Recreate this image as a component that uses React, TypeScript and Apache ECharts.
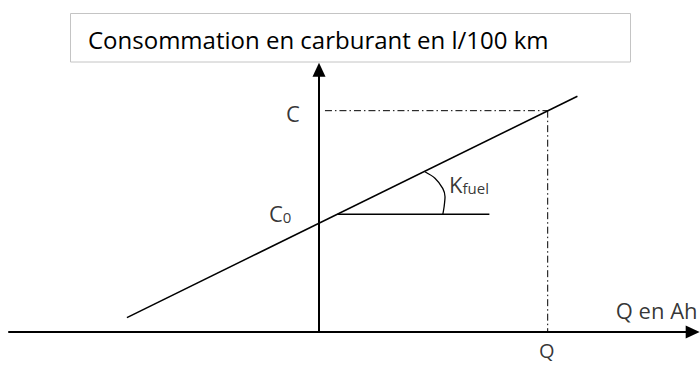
import React, { useEffect, useRef } from "react";
import * as echarts from "echarts";

// Axis ranges (data units; Q and C both set to 10 arbitrary units)
const xRange = [-13.95, 16.66];
const yRange = [-1.49, 15];

// Key values
const Q = 10;
const C = 10;
const C0 = 4.91;

// Axis lines
const xAxisLine = [-13.59, 16.34];
const yAxisTop = 11.85;

// Consumption line
const slopeLine = [
  [-8.4, 0.65],
  [11.3, 10.65],
];
// Horizontal reference for the angle
const refLine = [
  [0.81, 5.32],
  [7.45, 5.32],
];
// Angle arc points
const arcPoints = [
  [4.63, 7.24],
  [5.07, 6.95],
  [5.41, 6.49],
  [5.51, 6.11],
  [5.47, 5.66],
  [5.41, 5.29],
];

const titleText = "Consommation en carburant en l/100 km";
const xAxisName = "Q en Ah";
const labelC = "C";
const labelC0 = ["C", "0"];
const labelK = ["K", "fuel"];
const labelQ = "Q";

const FONT = "'Open Sans'";

export default function App() {
  const ref = useRef<HTMLDivElement>(null);
  useEffect(() => {
    if (!ref.current) return;
    const chart = echarts.init(ref.current, null, { renderer: "svg" });
    const dashDot = [7, 3, 1.5, 3];
    const richM = { fontSize: 22, fontFamily: FONT, color: "#000" };
    const richS = { fontSize: 15, fontFamily: FONT, color: "#000", verticalAlign: "bottom", lineHeight: 12 };
    chart.setOption({
      animation: false,
      backgroundColor: "#fff",
      grid: { left: 0, right: 0, top: 0, bottom: 0, containLabel: false },
      xAxis: { type: "value", min: xRange[0], max: xRange[1], show: false },
      yAxis: { type: "value", min: yRange[0], max: yRange[1], show: false },
      graphic: [
        {
          type: "rect",
          shape: { x: 70.5, y: 13.5, width: 560, height: 48.5 },
          style: { fill: "#fff", stroke: "#c4c4c4", lineWidth: 1 },
          z: 10,
        },
        {
          type: "text",
          x: 88,
          y: 39.5,
          style: {
            text: titleText,
            fontSize: 24,
            fontFamily: FONT,
            fill: "#000",
            verticalAlign: "middle",
          },
          z: 11,
        },
      ],
      series: [
        {
          type: "line",
          name: "axes",
          data: [],
          silent: true,
          markLine: {
            silent: true,
            symbol: ["none", "triangle"],
            symbolSize: [13, 14],
            label: { show: false },
            emphasis: { disabled: true },
            lineStyle: { type: "solid", width: 2, color: "#000" },
            data: [
              [{ coord: [xAxisLine[0], 0] }, { coord: [xAxisLine[1], 0] }],
              [{ coord: [0, 0] }, { coord: [0, yAxisTop] }],
            ],
          },
        },
        {
          type: "line",
          name: "consommation",
          data: slopeLine,
          symbol: "none",
          silent: true,
          lineStyle: { color: "#000", width: 1.6 },
        },
        {
          type: "line",
          name: "ref",
          data: refLine,
          symbol: "none",
          silent: true,
          lineStyle: { color: "#000", width: 1.3 },
        },
        {
          type: "line",
          name: "arc",
          data: arcPoints,
          smooth: 0.3,
          symbol: "none",
          silent: true,
          lineStyle: { color: "#000", width: 1.3 },
        },
        {
          type: "line",
          name: "dashC",
          data: [
            [0.26, C],
            [Q, C],
          ],
          symbol: "none",
          silent: true,
          lineStyle: { color: "#000", width: 1, type: dashDot },
        },
        {
          type: "line",
          name: "dashQ",
          data: [
            [Q, C],
            [Q, 0],
          ],
          symbol: "none",
          silent: true,
          lineStyle: { color: "#000", width: 1, type: dashDot },
        },
        {
          type: "scatter",
          name: "labels",
          symbolSize: 1,
          silent: true,
          itemStyle: { color: "transparent" },
          label: {
            show: true,
            position: "inside",
            align: "center",
            verticalAlign: "middle",
            fontSize: 22,
            fontFamily: FONT,
            color: "#000",
          },
          data: [
            { value: [0, C], label: { formatter: labelC, offset: [-26, 2.6] } },
            {
              value: [0, C0],
              label: {
                formatter: `{m|${labelC0[0]}}{s|${labelC0[1]}}`,
                offset: [-38.8, -10.3],
                rich: { m: richM, s: richS },
              },
            },
            {
              value: arcPoints[3],
              label: {
                formatter: `{m|${labelK[0]}}{s|${labelK[1]}}`,
                offset: [24, -12.5],
                rich: { m: richM, s: richS },
              },
            },
            { value: [xAxisLine[1], 0], label: { formatter: xAxisName, offset: [-36, -22.5] } },
            { value: [Q, 0], label: { formatter: labelQ, fontSize: 20, lineHeight: 20, offset: [-1, 18.5] } },
          ],
        },
      ],
    });
    return () => chart.dispose();
  }, []);
  return (
    <div
      ref={ref}
      style={{
        position: "absolute",
        left: 0,
        top: 0,
        width: 700,
        height: 365,
        background: "#fff",
        fontVariantLigatures: "none",
      }}
    />
  );
}
